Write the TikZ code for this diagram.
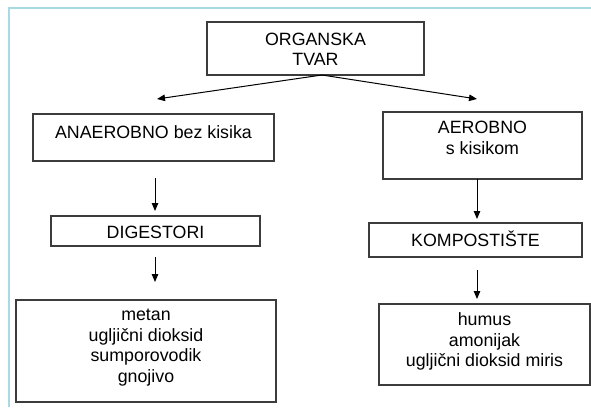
\documentclass[tikz,border=0pt]{standalone}
\usepackage{fontspec}
\setmainfont{Liberation Sans}
\usetikzlibrary{arrows.meta}
\definecolor{frame}{RGB}{168,218,228}
\definecolor{boxline}{RGB}{60,60,60}
\tikzset{
  box/.style={draw=boxline, line width=1.2pt, inner sep=0pt},
  txt/.style={inner sep=0pt, align=center, font=\fontsize{17.8}{20.5}\selectfont},
  arr/.style={draw=black, line width=1pt, -{Triangle[length=8pt,width=6.5pt]}}
}
\begin{document}
\begin{tikzpicture}[x=1pt,y=-1pt]
\useasboundingbox (0,0) rectangle (591,407);
\draw[frame, line width=1.5pt] (9,407) -- (9,8) -- (591,8);
% boxes
\node[box, minimum width=217pt, minimum height=53pt] (org) at (315.5,48.5) {};
\node[txt] (orgT) at (315.5,49.5) {ORGANSKA\\TVAR};
\node[box, minimum width=241pt, minimum height=47pt] (anaer) at (153.5,137.5) {};
\node[txt] (anaerT) at (153.5,132) {ANAEROBNO bez kisika};
\node[box, minimum width=199pt, minimum height=67pt] (aer) at (482.5,145.5) {};
\node[txt] (aerT) at (482.5,138) {AEROBNO\\s kisikom};
\node[box, minimum width=209pt, minimum height=30pt] (dig) at (155.5,231) {};
\node[txt] (digT) at (155.5,232.5) {DIGESTORI};
\node[box, minimum width=213pt, minimum height=34pt] (komp) at (475.5,240) {};
\node[txt] (kompT) at (475.5,239) {KOMPOSTIŠTE};
\node[box, minimum width=260pt, minimum height=102pt] (met) at (146,351) {};
\node[txt] (metT) at (146,347.5) {metan\\ugljični dioksid\\sumporovodik\\gnojivo};
\node[box, minimum width=211pt, minimum height=81pt] (hum) at (484.5,344.5) {};
\node[txt] (humT) at (484.5,341.5) {humus\\amonijak\\ugljični dioksid miris};
% connector end points
\coordinate (split) at (322,75);
\coordinate (lEnd) at (157,99);
\coordinate (rEnd) at (477,99);
\coordinate (a1s) at (155,178);
\coordinate (a1e) at (155,211);
\coordinate (a2s) at (155,257);
\coordinate (a2e) at (155,282);
\coordinate (b1s) at (477,179);
\coordinate (b1e) at (477,219);
\coordinate (b2s) at (477,270);
\coordinate (b2e) at (477,299);
\draw[arr] (split) -- (lEnd);
\draw[arr] (split) -- (rEnd);
\draw[arr] (a1s) -- (a1e);
\draw[arr] (a2s) -- (a2e);
\draw[arr] (b1s) -- (b1e);
\draw[arr] (b2s) -- (b2e);
\end{tikzpicture}
\end{document}
